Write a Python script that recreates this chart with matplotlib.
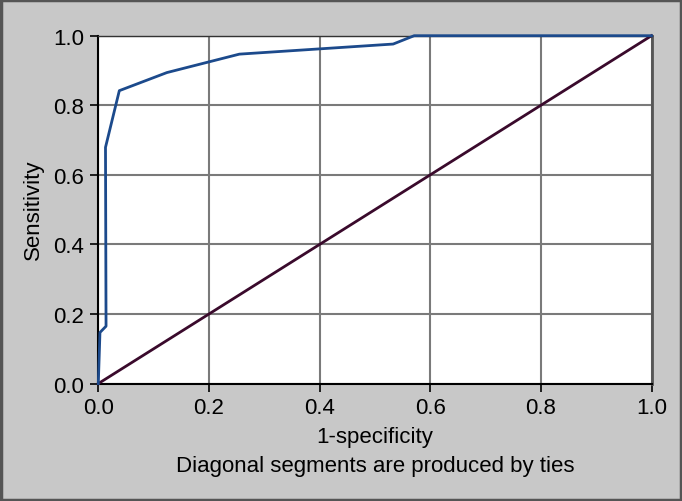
import matplotlib
matplotlib.use("Agg")
import matplotlib.pyplot as plt
from matplotlib.patches import Rectangle

plt.rcParams['font.family'] = ['Liberation Sans', 'DejaVu Sans']

# ROC curve points (1-specificity, sensitivity)
fpr = [0.0, 0.003, 0.014, 0.013, 0.038, 0.124, 0.255, 0.533, 0.571, 1.0]
tpr = [0.0, 0.147, 0.165, 0.679, 0.842, 0.894, 0.947, 0.976, 1.0, 1.0]
ref_x = [0.0, 1.0]
ref_y = [0.0, 1.0]
ticks = [0.0, 0.2, 0.4, 0.6, 0.8, 1.0]
tick_labels = ["0.0", "0.2", "0.4", "0.6", "0.8", "1.0"]

fig = plt.figure(figsize=(6.82, 5.02), dpi=100)
fig.patch.set_facecolor("#c8c8c8")
ax = fig.add_axes([98.3/682, 1-384.6/502, (651.5-98.3)/682, (384.6-36.7)/502])
ax.set_facecolor("white")

ax.set_xlim(0, 1)
ax.set_ylim(0, 1)
ax.set_xticks(ticks)
ax.set_yticks(ticks)
ax.set_xticklabels(tick_labels)
ax.set_yticklabels(tick_labels)
ax.grid(True, color="#7a7a7a", linewidth=1.5)
ax.set_axisbelow(True)

ax.plot(ref_x, ref_y, color="#3a0a2c", linewidth=2, clip_on=False, zorder=3)
ax.plot(fpr, tpr, color="#1c4a8c", linewidth=2, clip_on=False, zorder=4)

for s in ["left", "bottom"]:
    ax.spines[s].set_color("black")
    ax.spines[s].set_linewidth(1.5)
ax.spines["right"].set_color("#555555")
ax.spines["right"].set_linewidth(2)
ax.spines["top"].set_color("#333333")
ax.spines["top"].set_linewidth(1.0)

ax.tick_params(axis="both", direction="out", length=6, width=1.2, color="black",
               labelsize=16, pad=4)

fig.text(33/682, 1-210/502, "Sensitivity", rotation=90, ha="center", va="center", fontsize=16)
fig.text(375/682, 1-438/502, "1-specificity", ha="center", va="center", fontsize=16)
fig.text(375/682, 1-467/502, "Diagonal segments are produced by ties", ha="center", va="center", fontsize=16)

fig.patches.append(Rectangle((0.001, 0.001), 0.997, 0.997, transform=fig.transFigure,
                             fill=False, edgecolor="#555555", linewidth=2.5))

fig.savefig("out.png", dpi=100, facecolor=fig.get_facecolor())
